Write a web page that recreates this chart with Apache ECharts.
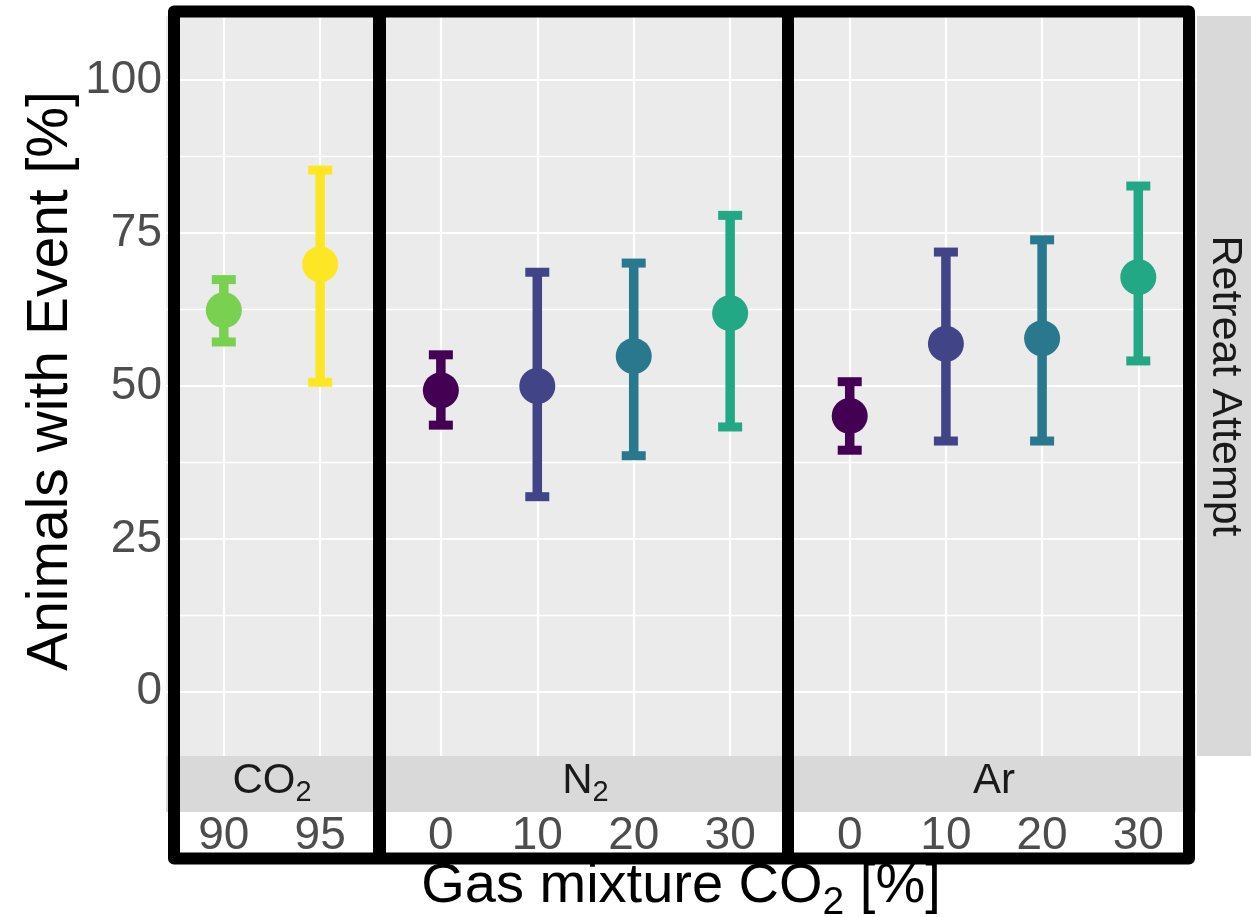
<!DOCTYPE html>
<html><head><meta charset="utf-8">
<script src="https://cdn.jsdelivr.net/npm/echarts@6/dist/echarts.min.js"></script>
<style>html,body{margin:0;padding:0;background:#fff}#c{width:1251px;height:917px}</style>
</head><body><div id="c"></div>
<script>
// ---- data ----
const panelNames = ['CO2', 'N2', 'Ar'];
const catsCO2 = ['90', '95'];
const catsN2 = ['0', '10', '20', '30'];
const catsAr = ['0', '10', '20', '30'];
const meanCO2 = [62.4, 69.9];
const lowCO2 = [57.2, 50.6];
const highCO2 = [67.4, 85.3];
const meanN2 = [49.3, 50.0, 54.9, 61.9];
const lowN2 = [43.6, 31.9, 38.6, 43.3];
const highN2 = [55.1, 68.6, 70.1, 77.9];
const meanAr = [45.1, 56.9, 57.8, 67.8];
const lowAr = [39.5, 41.0, 41.0, 54.1];
const highAr = [50.7, 71.9, 73.9, 82.7];
const lettersCO2 = ['b', 'ab'];
const lettersN2 = ['a', 'ab', 'ab', 'ab'];
const lettersAr = ['a', 'ab', 'ab', 'ab'];
const colorsCO2 = ['#7AD151', '#FDE725'];
const colorsN2 = ['#440154', '#414487', '#2A788E', '#22A884'];
const colorsAr = ['#440154', '#414487', '#2A788E', '#22A884'];
const yTicks = [0, 25, 50, 75, 100];
const yMinorTicks = [12.5, 37.5, 62.5, 87.5];
const letterY = 105;
const yMin = -10.5, yMax = 110.5;

// ---- layout ----
const FONT = 'Liberation Sans, Arial, sans-serif';
const panelTop = 16, panelH = 740;
const panelBox = [
  {left: 166, width: 212},
  {left: 383, width: 405},
  {left: 792, width: 404}
];
const panels = [
  {cats: catsCO2, mean: meanCO2, low: lowCO2, high: highCO2, letters: lettersCO2, colors: colorsCO2},
  {cats: catsN2, mean: meanN2, low: lowN2, high: highN2, letters: lettersN2, colors: colorsN2},
  {cats: catsAr, mean: meanAr, low: lowAr, high: highAr, letters: lettersAr, colors: colorsAr}
];

const grid = [], xAxis = [], yAxis = [], series = [];
panels.forEach((p, k) => {
  const idx = p.cats.map((c, i) => i);
  grid.push({left: panelBox[k].left, top: panelTop, width: panelBox[k].width, height: panelH,
    show: true, backgroundColor: '#EBEBEB', borderWidth: 0, containLabel: false, outerBoundsMode: 'none'});
  xAxis.push({
    type: 'value', gridIndex: k, min: -0.6, max: p.cats.length - 0.4, offset: 56,
    axisLine: {show: false}, splitLine: {show: false},
    axisTick: {show: true, customValues: idx, length: 4, lineStyle: {color: '#333333', width: 2}},
    axisLabel: {show: true, customValues: idx, formatter: v => p.cats[Math.round(v)],
      fontSize: 46, color: '#4D4D4D', margin: 1, fontFamily: FONT}
  });
  yAxis.push({
    type: 'value', gridIndex: k, min: yMin, max: yMax,
    axisLine: {show: false}, splitLine: {show: false},
    axisTick: k === 0 ? {show: true, customValues: yTicks, length: 4, lineStyle: {color: '#333333', width: 2}} : {show: false},
    axisLabel: k === 0 ? {show: true, customValues: yTicks, fontSize: 46, color: '#4D4D4D', margin: 4, fontFamily: FONT} : {show: false}
  });
  // letters + grid lines
  series.push({
    type: 'scatter', xAxisIndex: k, yAxisIndex: k, z: 1,
    data: idx.map(i => [i, letterY]),
    symbolSize: 1, itemStyle: {opacity: 0}, silent: true,
    label: {show: true, position: 'inside', formatter: q => p.letters[q.dataIndex],
      fontSize: 24, color: '#000', fontFamily: FONT},
    markLine: {
      z: 1, silent: true, symbol: 'none', animation: false, label: {show: false},
      lineStyle: {color: '#FFFFFF', type: 'solid', width: 2.2},
      emphasis: {disabled: true},
      data: [
        ...yTicks.map(v => ({yAxis: v, lineStyle: {color: '#FFFFFF', type: 'solid', width: 2.2}})),
        ...yMinorTicks.map(v => ({yAxis: v, lineStyle: {color: '#FFFFFF', type: 'solid', width: 1.3}})),
        ...idx.map(i => ({xAxis: i, lineStyle: {color: '#FFFFFF', type: 'solid', width: 2.2}}))
      ]
    }
  });
  // error bars
  series.push({
    type: 'custom', xAxisIndex: k, yAxisIndex: k, z: 3, silent: true,
    data: idx.map(i => [i, p.low[i], p.high[i]]),
    encode: {x: 0, y: [1, 2]},
    renderItem: (params, api) => {
      const x = api.value(0), lo = api.value(1), hi = api.value(2);
      const a = api.coord([x, lo]), b = api.coord([x, hi]);
      const c = p.colors[params.dataIndex];
      const hw = 12;
      return {type: 'group', children: [
        {type: 'line', shape: {x1: a[0], y1: a[1], x2: b[0], y2: b[1]}, style: {stroke: c, lineWidth: 9.5}},
        {type: 'line', shape: {x1: a[0] - hw, y1: a[1], x2: a[0] + hw, y2: a[1]}, style: {stroke: c, lineWidth: 9}},
        {type: 'line', shape: {x1: b[0] - hw, y1: b[1], x2: b[0] + hw, y2: b[1]}, style: {stroke: c, lineWidth: 9}}
      ]};
    }
  });
  // points
  series.push({
    type: 'scatter', xAxisIndex: k, yAxisIndex: k, z: 5, silent: true,
    symbol: 'circle', symbolSize: 36,
    data: idx.map(i => ({value: [i, p.mean[i]], itemStyle: {color: p.colors[i], opacity: 1}}))
  });
});

// strips + frame
const graphic = [];
const stripRich = {
  m: {fontSize: 42, lineHeight: 42, verticalAlign: 'top', fill: '#1A1A1A', fontFamily: FONT},
  s: {fontSize: 29, lineHeight: 42, verticalAlign: 'top', padding: [18, 0, 0, 0], fill: '#1A1A1A', fontFamily: FONT}
};
const stripText = ['{m|CO}{s|2}', '{m|N}{s|2}', '{m|Ar}'];
panelBox.forEach((b, k) => {
  graphic.push({type: 'rect', z: 10, shape: {x: b.left, y: panelTop + panelH, width: b.width, height: 56}, style: {fill: '#D9D9D9'}});
  graphic.push({type: 'text', z: 11, x: b.left + b.width / 2, y: 781,
    style: {text: stripText[k], rich: stripRich, align: 'center', verticalAlign: 'middle'}});
});
graphic.push({type: 'rect', z: 10, shape: {x: 1197, y: panelTop, width: 56, height: panelH}, style: {fill: '#D9D9D9'}});
graphic.push({type: 'text', z: 11, x: 1225, y: panelTop + panelH / 2, rotation: -Math.PI / 2,
  style: {text: 'Retreat Attempt', fontSize: 43, fill: '#1A1A1A', fontFamily: FONT, align: 'center', verticalAlign: 'middle'}});
graphic.push({type: 'rect', z: 20, shape: {x: 174, y: 11.5, width: 1015, height: 847},
  style: {fill: 'none', stroke: '#000', lineWidth: 12, lineJoin: 'round'}});
graphic.push({type: 'line', z: 20, shape: {x1: 379.5, y1: 11.5, x2: 379.5, y2: 858.5}, style: {stroke: '#000', lineWidth: 13}});
graphic.push({type: 'line', z: 20, shape: {x1: 788, y1: 11.5, x2: 788, y2: 858.5}, style: {stroke: '#000', lineWidth: 12}});
// axis titles
graphic.push({type: 'text', z: 11, x: 681, y: 887,
  style: {text: '{m|Gas mixture CO}{s|2}{m| [%]}', align: 'center', verticalAlign: 'middle',
    rich: {
      m: {fontSize: 56, lineHeight: 56, verticalAlign: 'top', fill: '#000', fontFamily: FONT},
      s: {fontSize: 39, lineHeight: 56, verticalAlign: 'top', padding: [25, 0, 0, 0], fill: '#000', fontFamily: FONT}
    }}});
graphic.push({type: 'text', z: 11, x: 51, y: 381, rotation: Math.PI / 2,
  style: {text: 'Animals with Event [%]', fontSize: 57, fill: '#000', fontFamily: FONT, align: 'center', verticalAlign: 'middle'}});

const chart = echarts.init(document.getElementById('c'), null, {renderer: 'canvas'});
chart.setOption({
  animation: false,
  textStyle: {fontFamily: FONT},
  grid, xAxis, yAxis, series, graphic
});
</script></body></html>
